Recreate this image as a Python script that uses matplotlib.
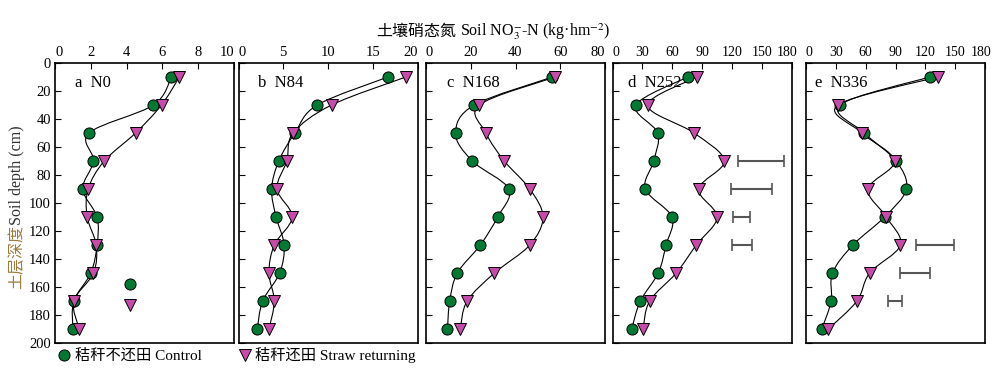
import numpy as np
import matplotlib
matplotlib.use("Agg")
import matplotlib.pyplot as plt
from matplotlib.path import Path
from matplotlib.patches import PathPatch
from matplotlib.lines import Line2D
from matplotlib.transforms import ScaledTranslation

plt.rcParams['font.family'] = ['Liberation Serif', 'Noto Sans CJK SC']
plt.rcParams['mathtext.fontset'] = 'stix'

# soil depth (cm)
depth = [10, 30, 50, 70, 90, 110, 130, 150, 170, 190]

# NO3-N per panel, control / straw returning
ctrl_n0 = [6.5, 5.5, 1.9, 2.15, 1.55, 2.35, 2.35, 2.0, 1.05, 1.0]
straw_n0 = [6.95, 5.95, 4.5, 2.75, 1.85, 1.8, 2.3, 2.15, 1.05, 1.35]
ctrl_n84 = [16.7, 8.8, 6.3, 4.5, 3.7, 4.2, 5.1, 4.6, 2.7, 2.1]
straw_n84 = [18.7, 10.4, 6.1, 5.4, 4.3, 6.0, 4.0, 3.4, 4.0, 3.4]
ctrl_n168 = [56.5, 21.6, 13.2, 20.7, 37.0, 32.0, 24.3, 14.0, 10.6, 9.6]
straw_n168 = [57.7, 23.8, 26.8, 35.0, 46.4, 52.3, 46.4, 30.6, 18.4, 15.3]
ctrl_n252 = [75.6, 23.6, 45.4, 41.4, 33.0, 59.8, 53.8, 46.0, 28.0, 19.3]
straw_n252 = [85.0, 35.4, 82.0, 112.4, 86.6, 105.3, 84.2, 64.1, 37.4, 30.7]
ctrl_n336 = [124.2, 34.3, 58.6, 90.6, 101.0, 79.0, 47.2, 26.6, 25.3, 15.9]
straw_n336 = [132.3, 32.0, 56.3, 89.0, 62.3, 80.8, 95.0, 64.0, 51.2, 22.5]

# LSD bars (left end, right end) at given depths
lsd_d_depth = [70, 90, 110, 130]
lsd_d_lo = [126.4, 118.8, 120.8, 119.8]
lsd_d_hi = [172.6, 160.6, 138.2, 139.9]
lsd_e_depth = [130, 150, 170]
lsd_e_lo = [110.8, 94.3, 82.5]
lsd_e_hi = [148.8, 124.6, 96.7]

# loose markers in panel a
stray_x = [4.18, 4.18]
stray_depth = [158, 173]

panel_names = ['a  N0', 'b  N84', 'c  N168', 'd  N252', 'e  N336']
xmax = [10, 20, 80, 180, 180]
xstep = [2, 5, 20, 30, 30]
ctrl = [ctrl_n0, ctrl_n84, ctrl_n168, ctrl_n252, ctrl_n336]
straw = [straw_n0, straw_n84, straw_n168, straw_n252, straw_n336]
lefts = [0.055, 0.2385, 0.426, 0.6125, 0.806]
label_x = [0.11, 0.11, 0.115, 0.085, 0.05]

green = '#007a33'
magenta = '#c64aa8'


def smooth_path(xs, ys):
    # Catmull-Rom through the points, drawn as cubic Bezier segments
    pts = np.column_stack([xs, ys]).astype(float)
    n = len(pts)
    verts = [pts[0]]
    codes = [Path.MOVETO]
    for i in range(n - 1):
        p0 = pts[i - 1] if i > 0 else pts[i]
        p1 = pts[i]
        p2 = pts[i + 1]
        p3 = pts[i + 2] if i + 2 < n else pts[i + 1]
        c1 = p1 + (p2 - p0) / 6.0
        c2 = p2 - (p3 - p1) / 6.0
        verts += [c1, c2, p2]
        codes += [Path.CURVE4] * 3
    return Path(verts, codes)


fig = plt.figure(figsize=(10, 3.73), dpi=100)

axes = []
for k in range(5):
    ax = fig.add_axes([lefts[k], 0.0804, 0.179, 0.7507])
    axes.append(ax)
    for series in (ctrl[k], straw[k]):
        ax.add_patch(PathPatch(smooth_path(series, depth), facecolor='none',
                               edgecolor='black', lw=0.8, zorder=2))
    ax.plot(ctrl[k], depth, ls='none', marker='o', ms=8, mfc=green,
            mec='black', mew=0.7, zorder=3)
    ax.plot(straw[k], depth, ls='none', marker='v', ms=8.5, mfc=magenta,
            mec='black', mew=0.7, zorder=3)
    ax.set_xlim(0, xmax[k])
    ax.set_ylim(200, 0)
    xt = np.arange(0, xmax[k] + 1, xstep[k])
    ax.set_xticks(xt)
    ax.set_xticklabels([str(v) for v in xt])
    ax.set_yticks(np.arange(0, 201, 20))
    ax.xaxis.tick_top()
    xsize = 10.5 if k < 3 else 10
    ax.tick_params(axis='x', direction='in', length=4, labelsize=xsize, pad=3)
    ax.tick_params(axis='y', direction='in', length=4, labelsize=10.5, pad=3)
    # keep end labels from running into the neighbour panel
    labs = ax.get_xticklabels()
    labs[0].set_horizontalalignment('left')
    if k < 3:
        labs[-1].set_horizontalalignment('right')
    else:
        labs[-1].set_transform(labs[-1].get_transform() +
                               ScaledTranslation(-4 / 100, 0,
                                                 fig.dpi_scale_trans))
    if k > 0:
        ax.tick_params(axis='y', labelleft=False)
    for sp in ax.spines.values():
        sp.set_linewidth(1.2)
    ax.text(label_x[k], 0.93, panel_names[k], transform=ax.transAxes,
            fontsize=12, va='center', ha='left')

axes[0].plot(stray_x[:1], stray_depth[:1], ls='none', marker='o', ms=8,
             mfc=green, mec='black', mew=0.7)
axes[0].plot(stray_x[1:], stray_depth[1:], ls='none', marker='v', ms=8.5,
             mfc=magenta, mec='black', mew=0.7)

for ax, dd, lo, hi in [(axes[3], lsd_d_depth, lsd_d_lo, lsd_d_hi),
                       (axes[4], lsd_e_depth, lsd_e_lo, lsd_e_hi)]:
    lo = np.array(lo)
    hi = np.array(hi)
    ax.errorbar((lo + hi) / 2, dd, xerr=(hi - lo) / 2, fmt='none',
                ecolor='#555555', elinewidth=1.5, capsize=4, capthick=1.2)

# top axis title: Chinese and English parts as two texts
fig.text(0.456, 0.915, '土壤硝态氮', ha='right', va='center', fontsize=11.5)
fig.text(0.460, 0.915, r'Soil NO$_3^{-}$-N (kg·hm$^{-2}$)',
         ha='left', va='center', fontsize=11.5)

fig.text(0.017, 0.311, '土层深度', rotation=90, ha='center', va='center',
         fontsize=11.5, color='#9c7a3c')
fig.text(0.017, 0.53, 'Soil depth (cm)', rotation=90, ha='center',
         va='center', fontsize=11.5, color='#333333')

handles = [Line2D([], [], ls='none', marker='o', ms=8, mfc=green, mec='black',
                  mew=0.7),
           Line2D([], [], ls='none', marker='v', ms=8.5, mfc=magenta,
                  mec='black', mew=0.7)]
fig.legend(handles, ['秸秆不还田 Control', '秸秆还田 Straw returning'],
           loc='center left', bbox_to_anchor=(0.055, 0.048), ncol=2,
           frameon=False, fontsize=11, handletextpad=0.1, columnspacing=2.2,
           handlelength=1.2, borderaxespad=0, borderpad=0)

fig.savefig('out.png', dpi=100)
